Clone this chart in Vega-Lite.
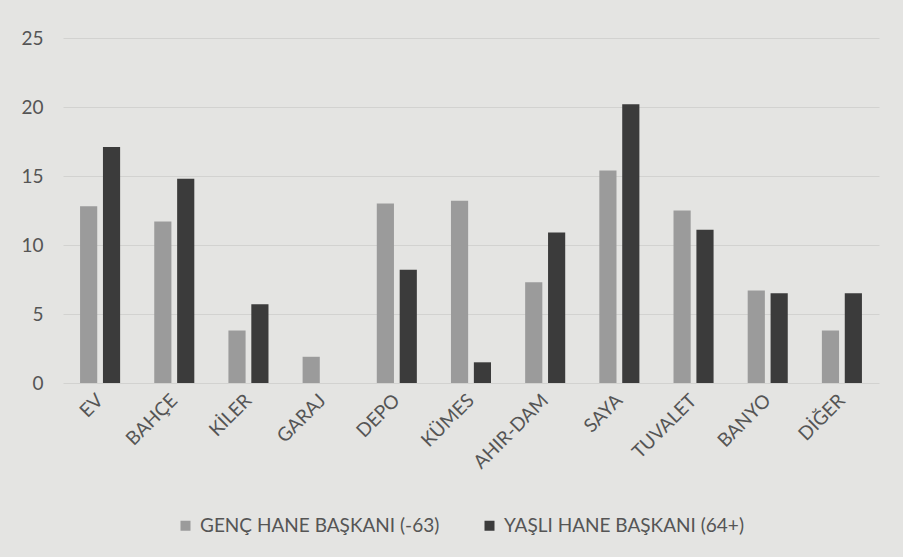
{
  "$schema": "https://vega.github.io/schema/vega-lite/v6.json",
  "width": 816,
  "height": 345,
  "autosize": {"type": "none"},
  "padding": {"left": 63, "top": 38, "right": 24, "bottom": 174},
  "background": "#e4e4e2",
  "config": {
    "view": {"stroke": null},
    "font": "Lato",
    "axis": {"labelFont": "Lato", "labelColor": "#555555", "labelFontSize": 19},
    "axisX": {"labelAngle": -45, "labelAlign": "right", "labelBaseline": "middle"}
  },
  "data": {
    "values": [
      {"kategori": "EV", "grup": "GENÇ HANE BAŞKANI (-63)", "deger": 12.8},
      {"kategori": "EV", "grup": "YAŞLI HANE BAŞKANI (64+)", "deger": 17.1},
      {"kategori": "BAHÇE", "grup": "GENÇ HANE BAŞKANI (-63)", "deger": 11.7},
      {"kategori": "BAHÇE", "grup": "YAŞLI HANE BAŞKANI (64+)", "deger": 14.8},
      {"kategori": "KİLER", "grup": "GENÇ HANE BAŞKANI (-63)", "deger": 3.8},
      {"kategori": "KİLER", "grup": "YAŞLI HANE BAŞKANI (64+)", "deger": 5.7},
      {"kategori": "GARAJ", "grup": "GENÇ HANE BAŞKANI (-63)", "deger": 1.9},
      {"kategori": "GARAJ", "grup": "YAŞLI HANE BAŞKANI (64+)", "deger": 0},
      {"kategori": "DEPO", "grup": "GENÇ HANE BAŞKANI (-63)", "deger": 13.0},
      {"kategori": "DEPO", "grup": "YAŞLI HANE BAŞKANI (64+)", "deger": 8.2},
      {"kategori": "KÜMES", "grup": "GENÇ HANE BAŞKANI (-63)", "deger": 13.2},
      {"kategori": "KÜMES", "grup": "YAŞLI HANE BAŞKANI (64+)", "deger": 1.5},
      {"kategori": "AHIR-DAM", "grup": "GENÇ HANE BAŞKANI (-63)", "deger": 7.3},
      {"kategori": "AHIR-DAM", "grup": "YAŞLI HANE BAŞKANI (64+)", "deger": 10.9},
      {"kategori": "SAYA", "grup": "GENÇ HANE BAŞKANI (-63)", "deger": 15.4},
      {"kategori": "SAYA", "grup": "YAŞLI HANE BAŞKANI (64+)", "deger": 20.2},
      {"kategori": "TUVALET", "grup": "GENÇ HANE BAŞKANI (-63)", "deger": 12.5},
      {"kategori": "TUVALET", "grup": "YAŞLI HANE BAŞKANI (64+)", "deger": 11.1},
      {"kategori": "BANYO", "grup": "GENÇ HANE BAŞKANI (-63)", "deger": 6.7},
      {"kategori": "BANYO", "grup": "YAŞLI HANE BAŞKANI (64+)", "deger": 6.5},
      {"kategori": "DİĞER", "grup": "GENÇ HANE BAŞKANI (-63)", "deger": 3.8},
      {"kategori": "DİĞER", "grup": "YAŞLI HANE BAŞKANI (64+)", "deger": 6.5}
    ]
  },
  "mark": {"type": "bar"},
  "encoding": {
    "x": {
      "field": "kategori",
      "type": "nominal",
      "sort": null,
      "scale": {"paddingInner": 0.46, "paddingOuter": 0.23},
      "axis": {
        "title": null,
        "labelPadding": 14,
        "ticks": false,
        "domain": false,
        "labelFontSize": 19
      }
    },
    "xOffset": {"field": "grup", "type": "nominal", "scale": {"paddingInner": 0.25}},
    "y": {
      "field": "deger",
      "type": "quantitative",
      "scale": {"domain": [0, 25]},
      "axis": {
        "title": null,
        "values": [0, 5, 10, 15, 20, 25],
        "ticks": false,
        "domain": false,
        "labelPadding": 20,
        "gridColor": "#d2d2d0",
        "gridWidth": 1.2
      }
    },
    "color": {
      "field": "grup",
      "type": "nominal",
      "scale": {
        "domain": ["GENÇ HANE BAŞKANI (-63)", "YAŞLI HANE BAŞKANI (64+)"],
        "range": ["#9b9b9b", "#3b3b3b"]
      },
      "legend": {
        "title": null,
        "orient": "none",
        "direction": "horizontal",
        "legendX": 113,
        "legendY": 478,
        "symbolType": "square",
        "symbolSize": 100,
        "labelFontSize": 19,
        "labelLimit": 0,
        "labelColor": "#555555",
        "columnPadding": 40,
        "labelOffset": 5
      }
    }
  }
}
